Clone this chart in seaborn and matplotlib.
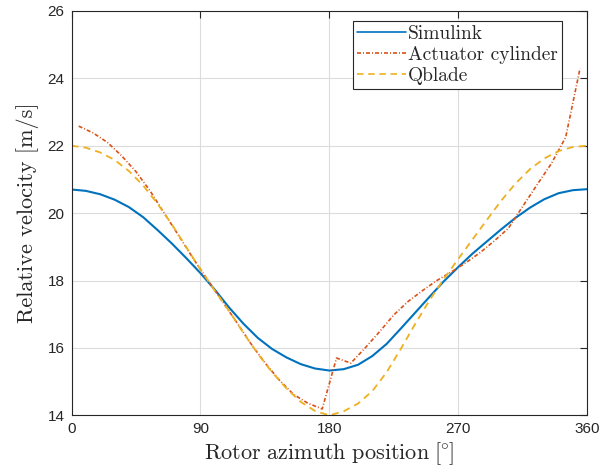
import numpy as np
import pandas as pd
import seaborn as sns
import matplotlib
matplotlib.use("Agg")
import matplotlib.pyplot as plt

# Simulink and Qblade read every 10 deg, actuator cylinder at 5, 15, ..., 355 deg
azimuth_10 = list(range(0, 361, 10))
simulink = [20.70, 20.66, 20.56, 20.40, 20.18, 19.88, 19.50, 19.10, 18.67, 18.22,
            17.73, 17.20, 16.72, 16.30, 15.97, 15.72, 15.52, 15.39, 15.33, 15.37,
            15.50, 15.76, 16.12, 16.58, 17.05, 17.52, 17.98, 18.40, 18.80, 19.16,
            19.52, 19.86, 20.16, 20.41, 20.59, 20.68, 20.71]
qblade = [22.00, 21.94, 21.80, 21.58, 21.25, 20.82, 20.28, 19.67, 19.00, 18.33,
          17.70, 17.10, 16.45, 15.83, 15.28, 14.80, 14.40, 14.13, 14.00, 14.12,
          14.35, 14.72, 15.28, 15.98, 16.72, 17.42, 18.05, 18.64, 19.22, 19.80,
          20.37, 20.88, 21.30, 21.62, 21.84, 21.96, 22.00]

azimuth_ac = list(range(5, 360, 10))
actuator = [22.58, 22.38, 22.10, 21.70, 21.23, 20.65, 19.98, 19.32, 18.65, 18.02,
            17.40, 16.78, 16.14, 15.56, 15.05, 14.62, 14.36, 14.19, 15.70, 15.55,
            16.00, 16.48, 16.98, 17.38, 17.70, 18.00, 18.25, 18.52, 18.82, 19.17,
            19.55, 20.20, 20.84, 21.47, 22.25, 24.29]

x_ticks = [0, 90, 180, 270, 360]
y_ticks = [14, 16, 18, 20, 22, 24, 26]

sns.set_style("white")
plt.rcParams['font.family'] = ['Liberation Sans', 'DejaVu Sans']
plt.rcParams['mathtext.fontset'] = 'cm'

df_10 = pd.DataFrame({'azimuth': azimuth_10, 'Simulink': simulink, 'Qblade': qblade})
df_ac = pd.DataFrame({'azimuth': azimuth_ac, 'Actuator cylinder': actuator})

fig = plt.figure(figsize=(6.01, 4.72), dpi=100)
ax = fig.add_axes([0.119, 0.12, 0.858, 0.857])

sns.lineplot(data=df_10, x='azimuth', y='Simulink', ax=ax, color='#0072BD',
             linewidth=1.5, label='Simulink')
sns.lineplot(data=df_ac, x='azimuth', y='Actuator cylinder', ax=ax, color='#D95319',
             linewidth=1.2, label='Actuator cylinder')
sns.lineplot(data=df_10, x='azimuth', y='Qblade', ax=ax, color='#EDB120',
             linewidth=1.3, label='Qblade')
ax.lines[1].set_dashes([2.4, 1.2, 0.6, 1.2])
ax.lines[2].set_dashes([3.9, 2.8])

ax.set_xlim(0, 360)
ax.set_ylim(14, 26)
ax.set_xticks(x_ticks)
ax.set_yticks(y_ticks)
ax.grid(True, color='#dcdcdc', linewidth=0.8)
ax.tick_params(direction='in', length=5, width=0.8, top=True, right=True,
               labelsize=11, colors='#262626', pad=5)
for sp in ax.spines.values():
    sp.set_color('#262626')
    sp.set_linewidth(0.8)

ax.set_xlabel(r'$\mathrm{Rotor\ azimuth\ position\ [\hspace{-0.08}^{\circ}\hspace{-0.08}]}$',
              fontsize=16, color='#262626', labelpad=3)
ax.set_ylabel('Relative velocity [m/s]', family='cmr10', fontsize=16,
              color='#262626', labelpad=6)

leg = ax.legend(loc='upper right', bbox_to_anchor=(0.951, 0.974),
                prop={'family': 'cmr10', 'size': 14}, frameon=True, fancybox=False,
                framealpha=1, edgecolor='#262626', handlelength=2.55,
                handletextpad=0.1, borderpad=0.2, labelspacing=0.15,
                borderaxespad=0.0)
leg.get_frame().set_linewidth(0.8)
for ln in leg.get_lines():
    ln.set_linewidth(1.2)
leg.get_lines()[1].set_dashes([2.4, 1.2, 0.6, 1.2])
leg.get_lines()[2].set_dashes([3.9, 2.8])

fig.savefig('out.png', dpi=100)
